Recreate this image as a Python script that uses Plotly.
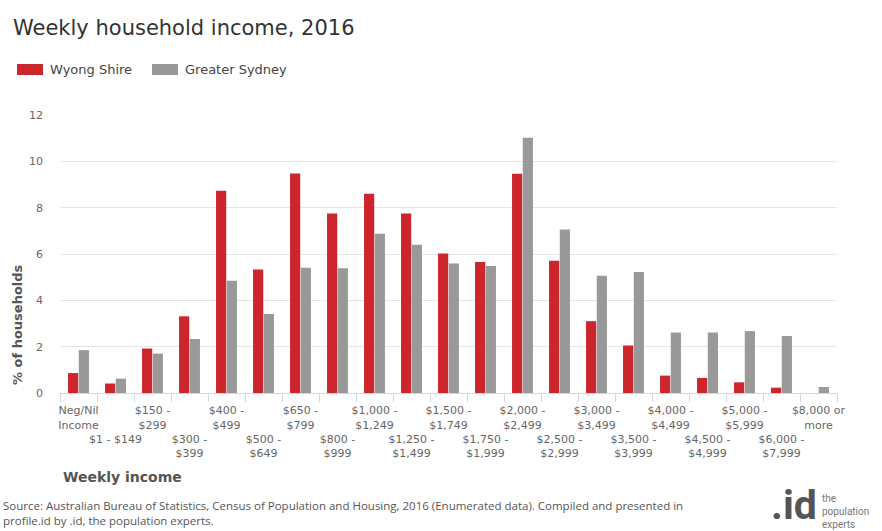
import plotly.graph_objects as go

categories = [
    "Neg/Nil Income", "$1 - $149", "$150 - $299", "$300 - $399", "$400 - $499",
    "$500 - $649", "$650 - $799", "$800 - $999", "$1,000 - $1,249", "$1,250 - $1,499",
    "$1,500 - $1,749", "$1,750 - $1,999", "$2,000 - $2,499", "$2,500 - $2,999",
    "$3,000 - $3,499", "$3,500 - $3,999", "$4,000 - $4,499", "$4,500 - $4,999",
    "$5,000 - $5,999", "$6,000 - $7,999", "$8,000 or more",
]
tick_labels = [
    "Neg/Nil<br>Income", "<br><br>$1 - $149", "$150 -<br>$299", "<br><br>$300 -<br>$399",
    "$400 -<br>$499", "<br><br>$500 -<br>$649", "$650 -<br>$799", "<br><br>$800 -<br>$999",
    "$1,000 -<br>$1,249", "<br><br>$1,250 -<br>$1,499", "$1,500 -<br>$1,749",
    "<br><br>$1,750 -<br>$1,999", "$2,000 -<br>$2,499", "<br><br>$2,500 -<br>$2,999",
    "$3,000 -<br>$3,499", "<br><br>$3,500 -<br>$3,999", "$4,000 -<br>$4,499",
    "<br><br>$4,500 -<br>$4,999", "$5,000 -<br>$5,999", "<br><br>$6,000 -<br>$7,999",
    "$8,000 or<br>more",
]
wyong = [0.86, 0.41, 1.92, 3.31, 8.73, 5.33, 9.48, 7.75, 8.60, 7.75, 6.02, 5.65,
         9.46, 5.71, 3.10, 2.05, 0.75, 0.65, 0.46, 0.23, 0.0]
sydney = [1.85, 0.62, 1.70, 2.33, 4.84, 3.41, 5.41, 5.38, 6.87, 6.40, 5.59, 5.48,
          11.02, 7.06, 5.06, 5.22, 2.61, 2.61, 2.67, 2.46, 0.26]
y_ticks = [0, 2, 4, 6, 8, 10, 12]

RED = "#cc252c"
GREY = "#999999"
FONT = "DejaVu Sans"

fig = go.Figure()
fig.add_trace(go.Bar(x=categories, y=wyong, name="Wyong Shire",
                     marker=dict(color=RED, line=dict(width=0))))
fig.add_trace(go.Bar(x=categories, y=sydney, name="Greater Sydney",
                     marker=dict(color=GREY, line=dict(width=0))))

W, H = 882, 531
ml, mr, mt, mb = 60, 45, 115, 138
pw, ph = W - ml - mr, H - mt - mb

def px(x):
    return (x - ml) / pw

def py(y):
    return (H - mb - y) / ph

fig.update_layout(
    width=W, height=H,
    margin=dict(l=ml, r=mr, t=mt, b=mb, pad=0),
    paper_bgcolor="white", plot_bgcolor="white",
    barmode="group", bargap=0.42, bargroupgap=0.05,
    showlegend=False,
    font=dict(family=FONT, color="#666666"),
    title=dict(text="Weekly household income, 2016", x=13 / W, xanchor="left",
               y=1 - 28 / H, yanchor="middle",
               font=dict(family=FONT, size=21, color="#333333")),
    xaxis=dict(
        tickvals=categories, ticktext=tick_labels, tickangle=0,
        tickfont=dict(family=FONT, size=11, color="#666666"),
        ticks="outside", tickson="boundaries", ticklen=8, tickcolor="#ccd6eb",
        ticklabelstandoff=7,
        showline=True, linecolor="#ccd6eb", linewidth=1,
        showgrid=False, fixedrange=True,
    ),
    yaxis=dict(
        range=[0, 12], tickvals=y_ticks,
        tickfont=dict(family=FONT, size=11, color="#666666"),
        gridcolor="#e6e6e6", gridwidth=1, zeroline=False,
        showline=False, ticks="", ticklabelstandoff=16, fixedrange=True,
    ),
)

# custom legend
legend_items = [("Wyong Shire", RED, 17), ("Greater Sydney", GREY, 152)]
for name, color, x0 in legend_items:
    fig.add_shape(type="rect", xref="paper", yref="paper",
                  x0=px(x0), x1=px(x0 + 26), y0=py(75), y1=py(64),
                  fillcolor=color, line=dict(width=0))
    fig.add_annotation(xref="paper", yref="paper", x=px(x0 + 31), y=py(70),
                       xanchor="left", yanchor="middle", showarrow=False,
                       text=name, font=dict(family=FONT, size=13, color="#444444"))

# axis titles
fig.add_annotation(xref="paper", yref="paper", x=px(17), y=py(325),
                   xanchor="center", yanchor="middle", showarrow=False, textangle=-90,
                   text="<b>% of households</b>",
                   font=dict(family=FONT, size=13, color="#555555"))
fig.add_annotation(xref="paper", yref="paper", x=px(61), y=py(477),
                   xanchor="left", yanchor="middle", showarrow=False,
                   text="<b>Weekly income</b>",
                   font=dict(family=FONT, size=14, color="#555555"))

# footer
fig.add_annotation(xref="paper", yref="paper", x=px(1), y=py(513),
                   xanchor="left", yanchor="middle", showarrow=False, align="left",
                   text="Source: Australian Bureau of Statistics, Census of Population and Housing, 2016 (Enumerated data). Compiled and presented in<br>profile.id by .id, the population experts.",
                   font=dict(family="Open Sans", size=11.5, color="#555555"))

# logo
fig.add_annotation(xref="paper", yref="paper", x=px(794), y=py(505),
                   xanchor="center", yanchor="middle", showarrow=False,
                   text="<b>.id</b>",
                   font=dict(family="Roboto", size=41, color="#555555"))
fig.add_annotation(xref="paper", yref="paper", x=px(820), y=py(511),
                   xanchor="left", yanchor="middle", showarrow=False, align="left",
                   text="the<br>population<br>experts",
                   font=dict(family="Roboto", size=10, color="#777777"))

fig.write_html("out.html")
